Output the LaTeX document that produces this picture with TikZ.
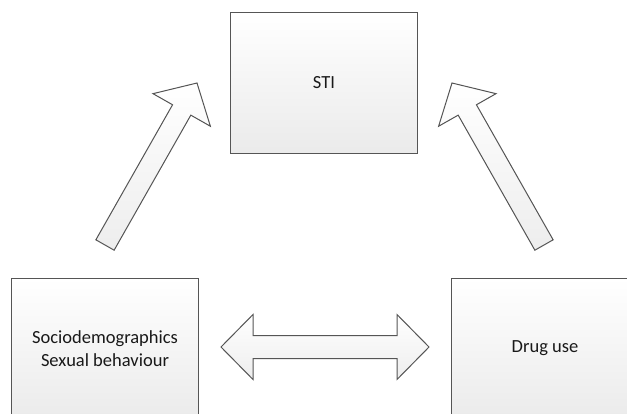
\documentclass[tikz,border=0pt]{standalone}
\usepackage{fontspec}
\setmainfont{Carlito}
\usetikzlibrary{calc}
\definecolor{edge}{HTML}{555555}
\tikzset{
  box/.style={draw=edge, line width=1pt, top color=white, bottom color=black!8,
    minimum width=187pt, minimum height=141pt, inner sep=0pt, align=center,
    font=\fontsize{18.5}{23}\selectfont, text=black!90},
  fat/.style={draw=edge, line width=1pt, top color=white, bottom color=black!7, line join=miter}
}
\newcommand{\fatarrow}[2]{%
  \coordinate (fa-c) at ($(#2)!31pt!(#1)$);
  \path[fat] ($(#1)!10.5pt!90:(#2)$) -- ($(fa-c)!10.5pt!-90:(#1)$) -- ($(fa-c)!33pt!-90:(#1)$)
    -- (#2) -- ($(fa-c)!33pt!90:(#1)$) -- ($(fa-c)!10.5pt!90:(#1)$) -- ($(#1)!10.5pt!-90:(#2)$) -- cycle;}
\begin{document}
\begin{tikzpicture}[x=1pt,y=-1pt]
\useasboundingbox (0,0) rectangle (627,413);
\fill[white] (0,0) rectangle (627,413);
\begin{scope}
\clip (0,0) rectangle (627,413);
\node[box] (sti) at (324,82.5) {STI};
\node[box] (socio) at (105,348.5) {Sociodemographics\\Sexual behaviour};
\node[box] (drug) at (545,348.5) {Drug use};
\end{scope}
% arrow end points
\coordinate (la) at (105,245);
\coordinate (lb) at (197,83);
\coordinate (ra) at (544,245);
\coordinate (rb) at (452,83);
\fatarrow{la}{lb}
\fatarrow{ra}{rb}
% double arrow between socio and drug
\coordinate (dl) at (221,347);
\coordinate (dr) at (429,347);
\path[fat] (dl) -- (253,314.5) -- (253,335.5) -- (397,335.5) -- (397,314.5) -- (dr)
  -- (397,379.5) -- (397,358.5) -- (253,358.5) -- (253,379.5) -- cycle;
\end{tikzpicture}
\end{document}
